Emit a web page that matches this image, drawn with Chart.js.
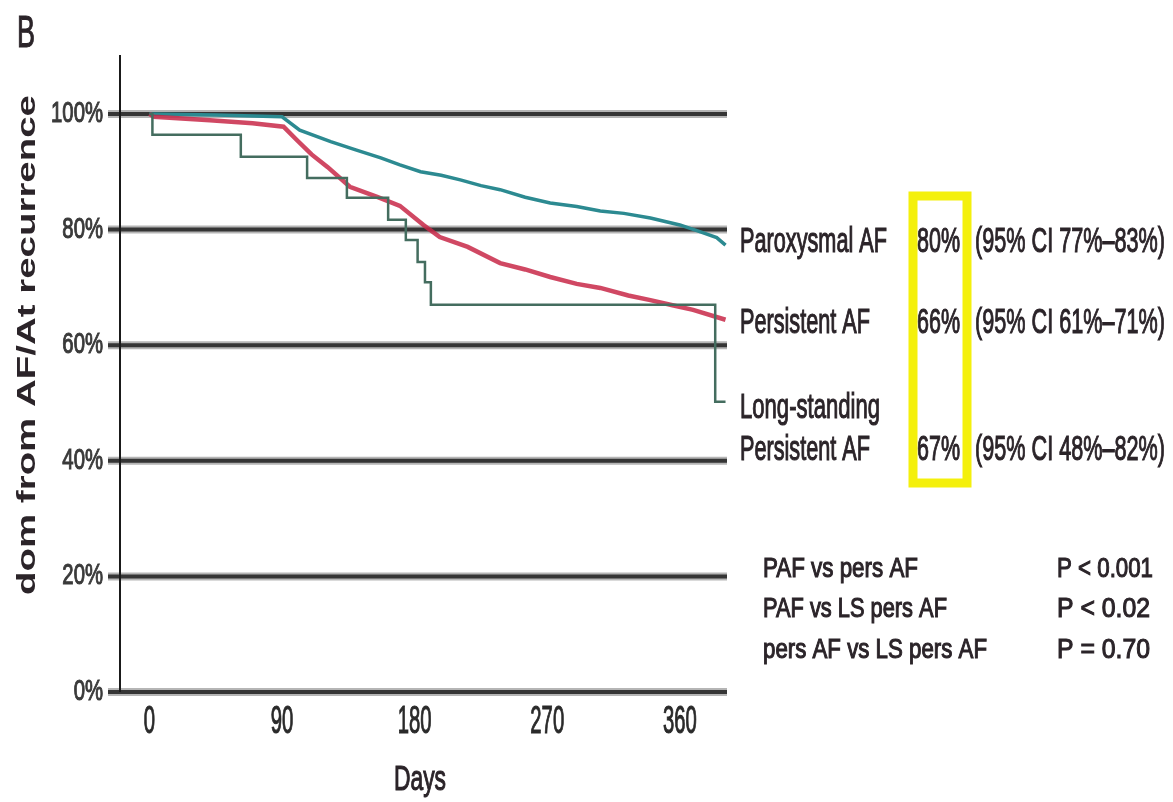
<!DOCTYPE html>
<html>
<head>
<meta charset="utf-8">
<title>Freedom from AF/AT recurrence</title>
<script src="https://cdn.jsdelivr.net/npm/chart.js@4.4.1/dist/chart.umd.min.js"></script>
<style>
  html, body { margin: 0; padding: 0; background: #fff; }
  canvas { display: block; }
</style>
</head>
<body>
<canvas id="km" width="1173" height="802"></canvas>
<script>
// ── Data ────────────────────────────────────────
const X_TICKS = [0, 90, 180, 270, 360];
const Y_TICKS = [0, 20, 40, 60, 80, 100];

const PAF_DAYS = [0, 45, 90, 102, 123, 140, 157, 170, 184, 198, 211, 225, 238, 255, 272, 290, 306, 322, 340, 360, 374, 385, 391];
const PAF_SURV = [100, 99.8, 99.5, 97.2, 95.2, 93.8, 92.4, 91.2, 90.0, 89.4, 88.6, 87.6, 86.9, 85.6, 84.6, 84.0, 83.2, 82.8, 82.0, 80.8, 79.6, 78.6, 77.3];

const PERS_DAYS = [0, 3, 41, 70, 91, 100, 110, 121, 136, 155, 170, 186, 197, 216, 238, 255, 272, 290, 306, 325, 340, 355, 369, 391];
const PERS_SURV = [100, 99.5, 98.9, 98.4, 97.8, 95.5, 93.0, 90.8, 87.4, 85.6, 84.1, 80.8, 78.7, 77.0, 74.2, 73.1, 71.8, 70.6, 69.9, 68.6, 67.8, 66.9, 66.1, 64.4];

const LSP_DAYS = [0, 2, 62, 107, 134, 162, 174, 182, 187, 191, 384, 391];
const LSP_SURV = [100, 96.4, 92.6, 88.9, 85.5, 81.7, 78.2, 74.4, 70.9, 67.0, 50.2, 50.2];

const GROUPS = [['Paroxysmal AF'], ['Persistent AF'], ['Long-standing', 'Persistent AF']];
const RATES  = ['80%', '66%', '67%'];
const CIS    = ['(95% CI 77%\u201383%)', '(95% CI 61%\u201371%)', '(95% CI 48%\u201382%)'];

const COMPARISONS = ['PAF vs pers AF', 'PAF vs LS pers AF', 'pers AF vs LS pers AF'];
const P_VALUES    = ['P < 0.001', 'P < 0.02', 'P = 0.70'];

const PANEL = 'B';
const Y_TITLE = 'dom from AF/At recurrence';
const X_TITLE = 'Days';

// ── Helpers ─────────────────────────────────────
const FONT = '"Liberation Sans", Arial, sans-serif';
const TEXT = '#2b2429';

const toPoints = (xs, ys) => xs.map((x, i) => ({ x, y: ys[i] }));

// fill + thin stroke so the squeezed glyphs keep the figure's heavy look
function ink(ctx, str, color, weight) {
  ctx.fillStyle = color;
  ctx.fillText(str, 0, 0);
  ctx.strokeStyle = color;
  ctx.lineWidth = weight;
  ctx.stroke && ctx.strokeText(str, 0, 0);
}

// draw text squeezed to a given width (the figure uses a condensed face)
function squeeze(ctx, str, x, y, size, width, align = 'left', color = TEXT) {
  ctx.font = `${size}px ${FONT}`;
  const w = ctx.measureText(str).width;
  ctx.save();
  ctx.translate(x, y);
  ctx.scale(width / w, 1);
  ctx.textAlign = align;
  ctx.textBaseline = 'alphabetic';
  ink(ctx, str, color, 1.1);
  ctx.restore();
}

function scaled(ctx, str, x, y, size, sx, align, baseline, color) {
  ctx.font = `${size}px ${FONT}`;
  ctx.save();
  ctx.translate(x, y);
  ctx.scale(sx, 1);
  ctx.textAlign = align;
  ctx.textBaseline = baseline;
  ink(ctx, str, color, 1.1);
  ctx.restore();
}

// ── Thick horizontal reference lines ────────────
const gridPlugin = {
  id: 'kmGrid',
  beforeDatasetsDraw(chart) {
    const { ctx, chartArea, scales: { y } } = chart;
    ctx.save();
    Y_TICKS.forEach(v => {
      const py = y.getPixelForValue(v);
      ctx.beginPath();
      ctx.moveTo(chartArea.left - 12, py);
      ctx.lineTo(chartArea.right, py);
      ctx.strokeStyle = '#b5b5b5';
      ctx.lineWidth = 8;
      ctx.stroke();
      ctx.strokeStyle = '#353535';
      ctx.lineWidth = 4;
      ctx.stroke();
    });
    // y axis line over the stubs
    ctx.beginPath();
    ctx.moveTo(chartArea.left, chartArea.top);
    ctx.lineTo(chartArea.left, y.getPixelForValue(0));
    ctx.strokeStyle = '#1a1a1a';
    ctx.lineWidth = 2;
    ctx.stroke();
    ctx.restore();
  }
};

// ── Labels, annotations, p-values ───────────────
const textPlugin = {
  id: 'kmText',
  afterDraw(chart) {
    const { ctx, scales: { x, y } } = chart;

    // tick labels
    Y_TICKS.forEach(v => {
      scaled(ctx, v + '%', 103, y.getPixelForValue(v), 29, 0.7, 'right', 'middle', '#3a3a3a');
    });
    X_TICKS.forEach(v => {
      scaled(ctx, String(v), x.getPixelForValue(v), 733, 39, 0.52, 'center', 'alphabetic', '#2a2a2a');
    });

    // axis titles
    squeeze(ctx, X_TITLE, 420, 790, 35, 52, 'center');
    ctx.save();
    ctx.translate(35, 595);
    ctx.rotate(-Math.PI / 2);
    ctx.font = `bold 25px ${FONT}`;
    const tw = ctx.measureText(Y_TITLE).width;
    ctx.scale(500 / tw, 1);
    ctx.fillStyle = TEXT;
    ctx.textAlign = 'left';
    ctx.fillText(Y_TITLE, 0, 0);
    ctx.restore();

    // panel letter
    squeeze(ctx, PANEL, 17, 47, 44, 18);

    // group annotations
    const nameWidths = [[147], [130], [140, 130]];
    const baselines  = [[252], [333], [418, 460]];
    GROUPS.forEach((lines, g) => {
      lines.forEach((s, k) => squeeze(ctx, s, 740, baselines[g][k], 35, nameWidths[g][k]));
      const b = baselines[g][lines.length - 1];
      squeeze(ctx, RATES[g], 917, b, 35, 43);
      squeeze(ctx, CIS[g], 975, b, 35, 190);
    });

    // highlight box round the 1-year rates
    ctx.save();
    ctx.strokeStyle = '#f4f00c';
    ctx.lineWidth = 9;
    ctx.strokeRect(913, 196, 54, 287);
    ctx.restore();

    // log-rank comparisons
    const cmpWidths = [155, 184, 224];
    const pWidths   = [96, 93, 93];
    const pBase     = [577, 617, 658];
    COMPARISONS.forEach((s, i) => {
      squeeze(ctx, s, 763, pBase[i], 28, cmpWidths[i]);
      squeeze(ctx, P_VALUES[i], 1057, pBase[i], 28, pWidths[i]);
    });
  }
};

// ── Chart ───────────────────────────────────────
new Chart(document.getElementById('km'), {
  type: 'line',
  data: {
    datasets: [
      {
        label: 'Long-standing Persistent AF',
        data: toPoints(LSP_DAYS, LSP_SURV),
        borderColor: '#446d5f',
        borderWidth: 2.5,
        stepped: 'before',
        pointRadius: 0
      },
      {
        label: 'Persistent AF',
        data: toPoints(PERS_DAYS, PERS_SURV),
        borderColor: 'rgba(200, 40, 72, 0.85)',
        borderWidth: 4.5,
        pointRadius: 0,
        tension: 0
      },
      {
        label: 'Paroxysmal AF',
        data: toPoints(PAF_DAYS, PAF_SURV),
        borderColor: '#2c8a91',
        borderWidth: 3.5,
        pointRadius: 0,
        tension: 0
      }
    ]
  },
  options: {
    responsive: false,
    animation: false,
    devicePixelRatio: 1,
    layout: { padding: { top: 55, right: 446, left: 0, bottom: 0 } },
    plugins: { legend: { display: false }, tooltip: { enabled: false } },
    scales: {
      x: {
        type: 'linear',
        min: -20,
        max: 392,
        grid: { display: false },
        border: { display: false },
        ticks: { display: false },
        afterBuildTicks: s => { s.ticks = X_TICKS.map(v => ({ value: v })); },
        afterFit: s => { s.height = 110; }
      },
      y: {
        min: 0,
        max: 110.2,
        grid: { display: false },
        border: { display: false },
        ticks: { display: false },
        afterBuildTicks: s => { s.ticks = Y_TICKS.map(v => ({ value: v })); },
        afterFit: s => { s.width = 120; }
      }
    }
  },
  plugins: [gridPlugin, textPlugin]
});
</script>
</body>
</html>
